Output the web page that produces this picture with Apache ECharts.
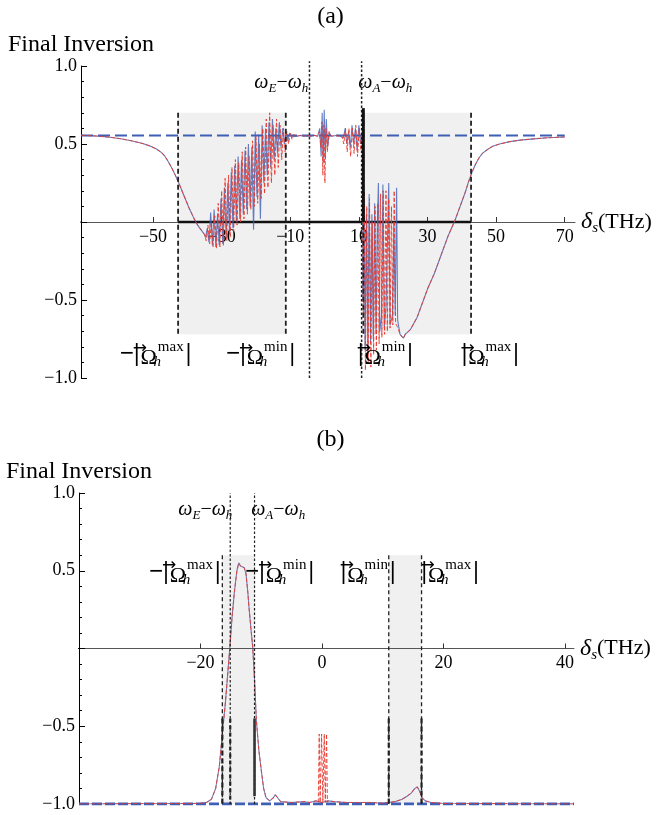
<!DOCTYPE html>
<html>
<head>
<meta charset="utf-8">
<script src="https://cdn.jsdelivr.net/npm/echarts@6/dist/echarts.min.js"></script>
<style>
html, body { margin: 0; padding: 0; background: #fff; }
#main { width: 661px; height: 815px; }
</style>
</head>
<body>
<div id="main"></div>
<script>
var serif = 'Liberation Serif';

// ---- panel (a) ----
var tailLeftA = [[-71,0.556],[-68,0.553],[-65,0.549],[-62,0.542],[-59,0.532],[-56,0.519],[-53,0.503],[-51,0.488],[-49,0.468],[-47.5,0.445],[-46.5,0.42],[-45.5,0.385],[-44.5,0.345],[-43.5,0.3],[-42.5,0.25],[-41,0.17],[-39.5,0.09],[-38,0.02],[-37,-0.02],[-36,-0.05],[-35,-0.08]];
var oscLeftRedA = [[-34.5,-0.12],[-34,-0.02],[-33.5,-0.14],[-33,0],[-32.5,-0.16],[-32,0.04],[-31.5,-0.17],[-31,0.12],[-30.5,-0.16],[-30,0.2],[-29.5,-0.15],[-29,0.28],[-28.5,-0.12],[-28,0.3],[-27.5,-0.1],[-27,0.35],[-26.5,-0.06],[-26,0.4],[-25.5,-0.02],[-25,0.38],[-24.5,0],[-24,0.45],[-23.5,0.02],[-23,0.48],[-22.5,0.05],[-22,0.42],[-21.5,0.08],[-21,0.52],[-20.5,0.1],[-20,0.55],[-19.5,0.12],[-19,0.5],[-18.5,0.15],[-18,0.6],[-17.5,0.18],[-17,0.66],[-16.5,0.22],[-16,0.7],[-15.5,0.25],[-15,0.62],[-14.5,0.3],[-14,0.66],[-13.5,0.35],[-13,0.62],[-12.5,0.4],[-12,0.6],[-11.5,0.45],[-11,0.58],[-10.5,0.5],[-10,0.57],[-9.5,0.53]];
var oscLeftBlueA = [[-34.7,-0.1],[-34.2,-0.04],[-33.7,-0.13],[-33.2,0.06],[-32.7,-0.15],[-32.2,0.08],[-31.7,-0.16],[-31.2,0.05],[-30.7,-0.15],[-30.2,0.15],[-29.7,-0.14],[-29.2,0.22],[-28.7,-0.1],[-28.2,0.25],[-27.7,-0.08],[-27.2,0.32],[-26.7,-0.04],[-26.2,0.36],[-25.7,0],[-25.2,0.42],[-24.7,0.02],[-24.2,0.4],[-23.7,0.05],[-23.2,0.46],[-22.7,0.08],[-22.2,0.5],[-21.7,0.1],[-21.2,0.48],[-20.7,-0.05],[-20.2,0.58],[-19.7,0.16],[-19.2,0.56],[-18.7,0.02],[-18.2,0.62],[-17.7,0.25],[-17.2,0.6],[-16.7,0.3],[-16.2,0.64],[-15.7,0.35],[-15.2,0.66],[-14.7,0.4],[-14.2,0.6],[-13.7,0.44],[-13.2,0.64],[-12.7,0.48],[-12.2,0.6],[-11.7,0.5],[-11.2,0.58],[-10.7,0.52],[-10.2,0.57],[-9.5,0.545]];
var midRedA = [[-9,0.56],[-8,0.55],[-7,0.556],[-6,0.55],[-5,0.556],[-4,0.55],[-3,0.555],[-2,0.55],[-1.5,0.58],[-1.1,0.48],[-0.8,0.64],[-0.5,0.3],[-0.2,0.62],[0.1,0.25],[0.4,0.6],[0.8,0.45],[1.3,0.58],[2,0.55],[3,0.556],[4,0.55],[5,0.555],[5.6,0.5],[6.1,0.6],[6.6,0.45],[7.1,0.6],[7.6,0.42],[8.1,0.6],[8.6,0.44],[9.1,0.62],[9.6,0.42],[10.1,0.6],[10.6,0.46],[11,0.55]];
var midBlueA = [[-9,0.55],[-7,0.555],[-5,0.55],[-3,0.556],[-2,0.55],[-1.4,0.6],[-1,0.42],[-0.7,0.7],[-0.4,0.38],[-0.1,0.72],[0.2,0.4],[0.5,0.66],[0.9,0.48],[1.4,0.57],[2,0.55],[4,0.556],[5.5,0.54],[6,0.6],[6.5,0.5],[7,0.58],[7.5,0.48],[8,0.62],[8.5,0.5],[9,0.6],[9.5,0.46],[10,0.62],[10.5,0.5],[11,0.56]];
var oscRightRedA = [[11.1,0.3],[11.3,-0.6],[11.6,0.2],[11.9,-0.95],[12.3,0.1],[12.7,-0.9],[13.1,0.15],[13.5,-0.93],[13.9,0],[14.3,-0.85],[14.7,0.1],[15.1,-0.82],[15.5,0.12],[15.9,-0.78],[16.3,0.18],[16.7,-0.74],[17.1,0.2],[17.5,-0.72],[17.9,0.2],[18.3,-0.7],[18.7,0.15],[19.1,-0.68],[19.5,0.1],[19.9,-0.66],[20.3,0.2],[20.7,-0.65],[21.2,-0.67],[21.7,-0.7]];
var oscRightBlueA = [[11.1,0.4],[11.2,-0.5],[11.5,0.15],[11.8,-0.82],[12.2,0.05],[12.6,-0.8],[13,0.18],[13.4,-0.78],[13.8,0.05],[14.2,-0.75],[14.6,0.12],[15,-0.72],[15.4,0],[15.7,0.25],[16.1,-0.7],[16.6,-0.6],[17,0.24],[17.4,-0.68],[17.9,-0.55],[18.7,0.25],[19.1,-0.66],[19.8,-0.6],[20.2,0],[20.6,-0.6],[21,0.22],[21.3,-0.63],[21.7,-0.68]];
var tailRightA = [[22,-0.72],[22.5,-0.73],[23,-0.745],[23.5,-0.72],[24,-0.73],[25,-0.69],[26,-0.65],[27,-0.61],[28,-0.55],[29,-0.49],[30,-0.43],[31,-0.38],[32,-0.33],[33,-0.27],[34,-0.21],[35,-0.15],[36,-0.09],[37,-0.04],[38,0.01],[39,0.07],[40,0.13],[41,0.19],[42,0.26],[43,0.32],[44,0.37],[45,0.41],[46,0.44],[47.5,0.465],[49,0.485],[51,0.5],[54,0.515],[57,0.525],[61,0.533],[65,0.54],[70,0.545]];
var plateauA = 0.555;
var omegaMinA = 11.3, omegaMaxA = 42.7;
var omegaEA = -4.4, omegaAA = 10.8;
var shadeTopA = 0.7, shadeBotA = -0.72;
var xTicksA = [-50, -30, -10, 10, 30, 50, 70];

// ---- panel (b) ----
var curveB = [[-40,-1],[-30,-0.998],[-20,-0.996],[-19,-0.99],[-18.2,-0.97],[-17.5,-0.9],[-16.9,-0.76],[-16.4,-0.55],[-15.9,-0.35],[-15.2,-0.01],[-14.8,0.2],[-14.4,0.37],[-14,0.5],[-13.7,0.55],[-13.4,0.53],[-13.1,0.54],[-12.8,0.52],[-12.5,0.48],[-12.2,0.36],[-12,0.26],[-11.7,0.13],[-11.4,0.01],[-11.1,-0.2],[-10.8,-0.46],[-10.4,-0.65],[-10,-0.78],[-9.6,-0.9],[-9.2,-0.96],[-8.6,-0.98],[-8,-0.96],[-7.7,-0.94],[-7.3,-0.96],[-6.8,-0.985],[-5,-0.99],[-3,-0.985],[-2,-0.99],[-1,-0.98],[0,-0.99],[1,-0.98],[2,-0.985],[4,-0.99],[6,-0.99],[8,-0.99],[10,-0.995],[11,-0.99],[12,-0.985],[13.2,-0.97],[14,-0.95],[14.7,-0.93],[15.3,-0.9],[15.7,-0.89],[16.1,-0.92],[16.5,-0.96],[17,-0.98],[18,-0.99],[20,-0.997],[30,-0.998],[41.5,-1]];
var redSpikesB = [[-0.6,-0.99],[-0.45,-0.55],[-0.3,-0.99],[-0.06,-0.55],[0.15,-0.99],[0.38,-0.55],[0.55,-0.99],[0.76,-0.55],[0.9,-0.99]];
var plateauB = -1;
var omegaMinB = 11, omegaMaxB = 16.4;
var omegaEB = -15.1, omegaAB = -11.1;
var shadeTopB = 0.6, shadeBotB = -1;
var xTicksB = [-20, 0, 20, 40];

var RED = '#e8382e', BLUE = '#3f5fb5';

var rich = {
    bar: { fontFamily: serif, fontSize: 25, fontWeight: 'bold', color: '#000', lineHeight: 30 },
    arr: { fontFamily: 'DejaVu Sans', fontSize: 17, color: '#000', lineHeight: 14, verticalAlign: 'top', width: 1 },
    om: { fontFamily: serif, fontSize: 22, color: '#000', lineHeight: 28, verticalAlign: 'bottom' },
    sub: { fontFamily: serif, fontStyle: 'italic', fontSize: 15, color: '#000', lineHeight: 15, verticalAlign: 'bottom', width: 1 },
    sup: { fontFamily: serif, fontSize: 15, color: '#000', lineHeight: 15, verticalAlign: 'top', padding: [0, 2, 0, 0] },
    w: { fontFamily: serif, fontStyle: 'italic', fontSize: 20, color: '#000', lineHeight: 24 },
    ws: { fontFamily: serif, fontStyle: 'italic', fontSize: 13, color: '#000', lineHeight: 12, verticalAlign: 'bottom' },
    op: { fontFamily: serif, fontSize: 20, color: '#000', lineHeight: 24 },
    d: { fontFamily: serif, fontStyle: 'italic', fontSize: 24, color: '#000', lineHeight: 28 },
    ds: { fontFamily: serif, fontStyle: 'italic', fontSize: 15, color: '#000', lineHeight: 14, verticalAlign: 'bottom' },
    t: { fontFamily: serif, fontSize: 22, color: '#000', lineHeight: 28 }
};

function omegaLabel(sign, which) {
    return (sign ? '{bar|−|}' : '{bar||}') + '{arr|→}{om|Ω}{sub|h}{sup|' + which + '}{bar||}';
}
function wLabel(letter) {
    return '{w|ω}{ws|' + letter + '}{op|−}{w|ω}{ws|h}';
}
function mp(x, y, text) {
    return { coord: [x, y], label: { formatter: text } };
}

function vline(gi, x, y0, y1, style) {
    return {
        type: 'line', xAxisIndex: gi, yAxisIndex: gi, data: [[x, y0], [x, y1]],
        symbol: 'none', lineStyle: style, clip: false, z: 5, silent: true
    };
}

// x axis sits on the y = 0 line: half the grid height above the bottom
function xAxisCfg(gi, min, max, ticks, lift) {
    return {
        type: 'value', gridIndex: gi, min: min, max: max, position: 'bottom', offset: -lift, z: 2,
        name: '{d|δ}{ds|s}{t|(THz)}', nameLocation: 'end', nameGap: 6,
        nameTextStyle: { rich: rich },
        axisLine: { onZero: false, lineStyle: { color: '#555', width: 1 } },
        axisTick: { inside: true, length: 5, customValues: ticks, lineStyle: { color: '#333' } },
        axisLabel: {
            customValues: ticks, margin: 6, color: '#000', fontFamily: serif, fontSize: 18,
            formatter: function (v) { return String(v).replace('-', '−'); }
        },
        splitLine: { show: false }
    };
}

function yAxisCfg(gi) {
    return {
        type: 'value', gridIndex: gi, min: -1, max: 1, interval: 0.5, z: 2,
        name: 'Final Inversion', nameLocation: 'end', nameGap: 8,
        nameTextStyle: { color: '#000', fontFamily: serif, fontSize: 24, align: 'center' },
        axisLine: { show: true, onZero: false, lineStyle: { color: '#000', width: 1 } },
        axisTick: { show: true, inside: true, length: 6, lineStyle: { color: '#000' } },
        minorTick: { show: true, splitNumber: 5, length: 3, lineStyle: { color: '#000' } },
        axisLabel: {
            margin: 4, color: '#000', fontFamily: serif, fontSize: 18,
            formatter: function (v) { return v === 0 ? '' : v.toFixed(1).replace('-', '−'); }
        },
        splitLine: { show: false }
    };
}

var dashEdge = { color: '#222', width: 1.8, type: [5, 3] };
var dotLine = { color: '#222', width: 1.5, type: [2.5, 2] };

var series = [
    // shaded bands (a)
    {
        type: 'line', xAxisIndex: 0, yAxisIndex: 0, data: [], z: 1, symbol: 'none',
        markArea: {
            silent: true, itemStyle: { color: '#f0f0f0' },
            data: [
                [{ coord: [-omegaMaxA, shadeTopA] }, { coord: [-omegaMinA, shadeBotA] }],
                [{ coord: [omegaMinA, shadeTopA] }, { coord: [omegaMaxA, shadeBotA] }]
            ]
        }
    },
    // thick black segment on axis (a)
    {
        type: 'line', xAxisIndex: 0, yAxisIndex: 0, data: [[-omegaMaxA, 0], [omegaMaxA, 0]],
        symbol: 'none', lineStyle: { color: '#111', width: 2.5 }, z: 3
    },
    {
        type: 'line', xAxisIndex: 0, yAxisIndex: 0, data: [[-74.5, 0], [-71, 0]],
        symbol: 'none', lineStyle: { color: '#555', width: 1 }, clip: false, z: 3
    },
    // plateau dashed blue (a)
    {
        type: 'line', xAxisIndex: 0, yAxisIndex: 0, data: [[-71, plateauA], [70, plateauA]],
        symbol: 'none', lineStyle: { color: BLUE, width: 2, type: [12, 5] }, z: 3
    },
    {
        type: 'line', xAxisIndex: 0, yAxisIndex: 0,
        data: tailLeftA.concat(oscLeftBlueA, midBlueA, oscRightBlueA, tailRightA),
        symbol: 'none', lineStyle: { color: BLUE, width: 1.1, opacity: 0.8 }, z: 4
    },
    {
        type: 'line', xAxisIndex: 0, yAxisIndex: 0,
        data: tailLeftA.concat(oscLeftRedA, midRedA, oscRightRedA, tailRightA),
        symbol: 'none', lineStyle: { color: RED, width: 1, type: [4, 2], opacity: 0.9 }, z: 4
    },
    vline(0, -omegaMaxA, shadeTopA, shadeBotA, dashEdge),
    vline(0, -omegaMinA, shadeTopA, shadeBotA, dashEdge),
    vline(0, omegaMinA, shadeTopA, shadeBotA, dashEdge),
    vline(0, omegaMaxA, shadeTopA, shadeBotA, dashEdge),
    vline(0, omegaEA, -1, 1.03, dotLine),
    vline(0, omegaAA, -1, 1.03, dotLine),
    vline(0, omegaMinA, 0, 0.73, { color: '#111', width: 3 }),
    {
        type: 'line', xAxisIndex: 0, yAxisIndex: 0, data: [], symbol: 'none', z: 6,
        markPoint: {
            symbol: 'circle', symbolSize: 0, silent: true,
            label: { show: true, position: 'inside', rich: rich },
            data: [
                mp(-12.6, 0.89, wLabel('E')),
                mp(17.7, 0.89, wLabel('A')),
                mp(-49.3, -0.85, omegaLabel(true, 'max')),
                mp(-18.7, -0.85, omegaLabel(true, 'min')),
                mp(17.7, -0.85, omegaLabel(false, 'min')),
                mp(48.3, -0.85, omegaLabel(false, 'max'))
            ]
        }
    },

    // ---- panel (b) ----
    {
        type: 'line', xAxisIndex: 1, yAxisIndex: 1, data: [], z: 1, symbol: 'none',
        markArea: {
            silent: true, itemStyle: { color: '#f0f0f0' },
            data: [
                [{ coord: [-omegaMaxB, shadeTopB] }, { coord: [-omegaMinB, shadeBotB] }],
                [{ coord: [omegaMinB, shadeTopB] }, { coord: [omegaMaxB, shadeBotB] }]
            ]
        }
    },
    {
        type: 'line', xAxisIndex: 1, yAxisIndex: 1, data: [[-41.8, 0], [-40, 0]],
        symbol: 'none', lineStyle: { color: '#111', width: 1 }, clip: false, z: 3
    },
    vline(1, -omegaMaxB, shadeTopB, shadeBotB, { color: '#222', width: 1.3, type: [4, 3] }),
    vline(1, omegaMinB, shadeTopB, shadeBotB, { color: '#222', width: 1.3, type: [4, 3] }),
    vline(1, omegaMaxB, shadeTopB, shadeBotB, { color: '#222', width: 1.3, type: [4, 3] }),
    vline(1, -omegaMaxB, -0.45, -1, { color: '#222', width: 2.2, type: [5, 3] }),
    vline(1, omegaMinB, -0.45, -1, { color: '#222', width: 2.2, type: [5, 3] }),
    vline(1, omegaMaxB, -0.45, -1, { color: '#222', width: 2.2, type: [5, 3] }),
    vline(1, omegaEB, -1, 1, { color: '#222', width: 1.2, type: [2.5, 2] }),
    vline(1, omegaAB, -1, 1, { color: '#222', width: 1.2, type: [2.5, 2] }),
    vline(1, omegaEB, -0.45, -1, { color: '#222', width: 2.2, type: [4, 3] }),
    vline(1, omegaAB, -0.45, -0.95, { color: '#333', width: 2.6 }),
    {
        type: 'line', xAxisIndex: 1, yAxisIndex: 1, data: [[-40, plateauB], [41.5, plateauB]],
        symbol: 'none', lineStyle: { color: BLUE, width: 3, type: [10, 3] }, z: 3
    },
    {
        type: 'line', xAxisIndex: 1, yAxisIndex: 1, data: curveB,
        symbol: 'none', lineStyle: { color: BLUE, width: 1.1, opacity: 0.75 }, z: 4
    },
    {
        type: 'line', xAxisIndex: 1, yAxisIndex: 1, data: curveB,
        symbol: 'none', lineStyle: { color: RED, width: 1, type: [4, 2], opacity: 0.9 }, z: 4
    },
    {
        type: 'line', xAxisIndex: 1, yAxisIndex: 1, data: redSpikesB,
        symbol: 'none', lineStyle: { color: RED, width: 0.9, type: [4, 2] }, z: 4
    },
    {
        type: 'line', xAxisIndex: 1, yAxisIndex: 1, data: [], symbol: 'none', z: 6,
        markPoint: {
            symbol: 'circle', symbolSize: 0, silent: true,
            label: { show: true, position: 'inside', rich: rich },
            data: [
                mp(-19.2, 0.89, wLabel('E')),
                mp(-7.2, 0.89, wLabel('A')),
                mp(-22.6, 0.49, omegaLabel(true, 'max')),
                mp(-7.0, 0.49, omegaLabel(true, 'min')),
                mp(7.6, 0.49, omegaLabel(false, 'min')),
                mp(21.1, 0.49, omegaLabel(false, 'max'))
            ]
        }
    }
];

var chart = echarts.init(document.getElementById('main'));
chart.setOption({
    animation: false,
    backgroundColor: '#fff',
    title: [
        { text: '(a)', left: 'center', top: 0, textStyle: { fontFamily: serif, fontSize: 24, fontWeight: 'normal', color: '#000' } },
        { text: '(b)', left: 'center', top: 423, textStyle: { fontFamily: serif, fontSize: 24, fontWeight: 'normal', color: '#000' } }
    ],
    grid: [
        { left: 81, right: 86, top: 66, height: 312 },
        { left: 79, right: 87, top: 493, height: 311 }
    ],
    xAxis: [xAxisCfg(0, -71, 73, xTicksA, 156), xAxisCfg(1, -40, 41.5, xTicksB, 155.5)],
    yAxis: [yAxisCfg(0), yAxisCfg(1)],
    series: series
});
</script>
</body>
</html>
